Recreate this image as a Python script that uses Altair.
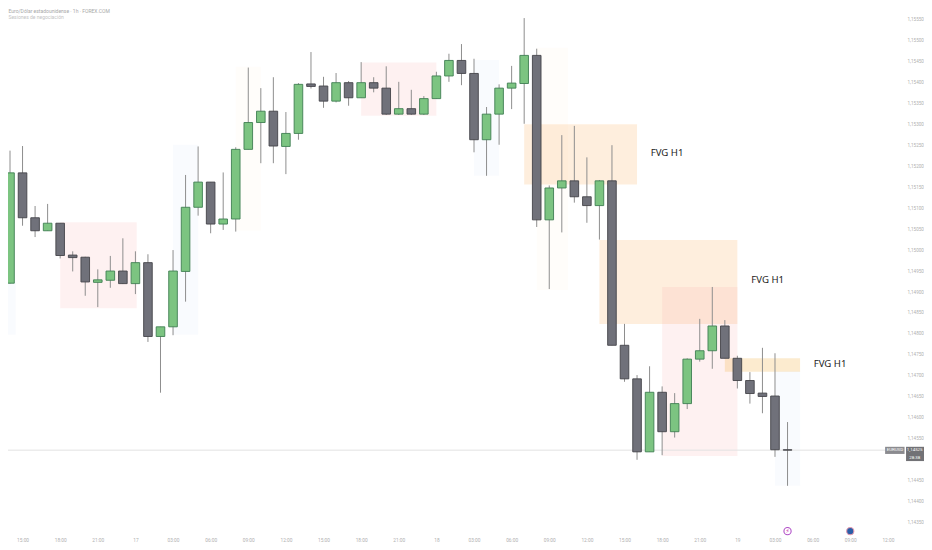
import altair as alt
import pandas as pd

hours = list(range(63))
opens = [1.14921,1.15184,1.15077,1.15046,1.15064,1.14988,1.14983,1.14923,1.14928,1.14950,
         1.14920,1.14970,1.14794,1.14817,1.14949,1.15102,1.15162,1.15062,1.15074,1.15240,
         1.15304,1.15331,1.15247,1.15278,1.15396,1.15391,1.15355,1.15399,1.15363,1.15399,
         1.15386,1.15324,1.15337,1.15324,1.15361,1.15415,1.15452,1.15421,1.15263,1.15324,
         1.15386,1.15397,1.15464,1.15072,1.15148,1.15165,1.15127,1.15106,1.15165,1.14773,
         1.14693,1.14519,1.14661,1.14567,1.14634,1.14740,1.14760,1.14819,1.14742,1.14689,
         1.14659,1.14652,1.14524]
highs = [1.15237,1.15248,1.15105,1.15110,1.15064,1.14997,1.14984,1.14954,1.14986,1.15028,
         1.14997,1.14990,1.14817,1.15000,1.15179,1.15247,1.15162,1.15185,1.15245,1.15435,
         1.15386,1.15412,1.15329,1.15398,1.15472,1.15413,1.15422,1.15403,1.15448,1.15412,
         1.15438,1.15401,1.15382,1.15367,1.15425,1.15468,1.15491,1.15456,1.15341,1.15395,
         1.15439,1.15553,1.15480,1.15154,1.15274,1.15296,1.15221,1.15167,1.15250,1.14824,
         1.14702,1.14723,1.14675,1.14659,1.14742,1.14836,1.14912,1.14833,1.14748,1.14709,
         1.14767,1.14754,1.14590]
lows = [1.14920,1.15058,1.15031,1.15046,1.14980,1.14949,1.14891,1.14864,1.14910,1.14919,
        1.14895,1.14781,1.14660,1.14797,1.14877,1.15082,1.15040,1.15048,1.15044,1.15240,
        1.15207,1.15207,1.15181,1.15263,1.15385,1.15339,1.15352,1.15344,1.15363,1.15376,
        1.15322,1.15322,1.15322,1.15322,1.15361,1.15401,1.15393,1.15233,1.15177,1.15251,
        1.15336,1.15301,1.15055,1.14907,1.15042,1.15113,1.15065,1.15025,1.14773,1.14686,
        1.14500,1.14519,1.14511,1.14553,1.14621,1.14734,1.14717,1.14742,1.14670,1.14634,
        1.14611,1.14507,1.14438]
closes = [1.15184,1.15077,1.15046,1.15064,1.14987,1.14982,1.14924,1.14929,1.14950,1.14920,
          1.14970,1.14794,1.14817,1.14950,1.15102,1.15162,1.15062,1.15074,1.15240,1.15304,
          1.15331,1.15248,1.15278,1.15395,1.15390,1.15355,1.15399,1.15363,1.15399,1.15386,
          1.15324,1.15337,1.15324,1.15361,1.15415,1.15452,1.15421,1.15263,1.15324,1.15386,
          1.15398,1.15464,1.15072,1.15148,1.15165,1.15127,1.15106,1.15165,1.14773,1.14693,
          1.14519,1.14661,1.14567,1.14634,1.14740,1.14760,1.14819,1.14742,1.14689,1.14658,
          1.14651,1.14524,1.14523]

zone_kind = ["blue","red","blue","yellow","red","blue","yellow","orange","orange","red","amber","blue"]
zone_start = [-1,4,13,18,28,37,42,41,47,52,57,61]
zone_end = [0.45,10.1,15,20,34,39,44.5,50,58,58,63,63]
zone_top = [1.14922,1.15066,1.15251,1.15437,1.15447,1.15453,1.15482,1.15300,1.15024,1.14912,1.14742,1.14711]
zone_bottom = [1.14798,1.14861,1.14798,1.15046,1.15320,1.15177,1.14905,1.15156,1.14824,1.14509,1.14710,1.14438]

note_text = ["FVG H1","FVG H1","FVG H1"]
note_hour = [52.39,60.42,65.39]
note_price = [1.15231,1.14929,1.14728]

price_ticks = [1.15550,1.15500,1.15450,1.15400,1.15350,1.15300,1.15250,1.15200,1.15150,1.15100,1.15050,
               1.15000,1.14950,1.14900,1.14850,1.14800,1.14750,1.14700,1.14650,1.14600,1.14550,
               1.14450,1.14400,1.14350]
time_ticks = [1,4,7,10,13,16,19,22,25,28,31,34,37,40,43,46,49,52,55,58,61,64,67,70]
time_labels = ["15:00","18:00","21:00","17","03:00","06:00","09:00","12:00","15:00","18:00","21:00","18",
               "03:00","06:00","09:00","12:00","15:00","18:00","21:00","19","03:00","06:00","09:00","12:00"]
current_price = 1.14523

x_scale = alt.Scale(domain=[-0.1595, 70.33], nice=False, zero=False, padding=0)
y_scale = alt.Scale(domain=[1.14316, 1.15577], nice=False, zero=False, padding=0)

label_lookup = "{" + ",".join(f"'{t}':'{l}'" for t, l in zip(time_ticks, time_labels)) + "}"
x_axis = alt.Axis(values=time_ticks, labelExpr=f"{label_lookup}[datum.value]", title=None, domain=False, ticks=False,
                  grid=False, labelFont="Roboto", labelFontSize=4.8, labelColor="#b0b0b0", labelPadding=0,
                  labelOverlap=False, labelFlush=False)
y_axis = alt.Axis(orient="right", values=price_ticks, labelExpr="replace(format(datum.value,'.5f'),'.',',')",
                  title=None, domain=False, ticks=False, grid=False, labelFont="Roboto", labelFontSize=4.6,
                  labelColor="#b0b0b0", labelPadding=15, labelOverlap=False, labelFlush=False, labelAlign="left")

X = alt.X("x:Q", scale=x_scale, axis=x_axis)
Y = alt.Y("y:Q", scale=y_scale, axis=y_axis)

candles = pd.DataFrame({"x": hours, "o": opens, "h": highs, "l": lows, "c": closes})
candles["dir"] = ["up" if c >= o else "down" for o, c in zip(opens, closes)]
candles["top"] = candles[["o", "c"]].max(axis=1)
candles["bot"] = candles[["o", "c"]].min(axis=1)
zones = pd.DataFrame({"x": zone_start, "x2": zone_end, "y": zone_top, "y2": zone_bottom, "kind": zone_kind})
notes = pd.DataFrame({"x": note_hour, "y": note_price, "t": note_text})

zone_layer = alt.Chart(zones).mark_rect().encode(
    x=X, x2="x2:Q", y=Y, y2="y2:Q",
    color=alt.Color("kind:N", legend=None, scale=alt.Scale(
        domain=["red", "blue", "yellow", "orange", "amber"],
        range=["rgba(248,160,160,0.15)", "rgba(170,200,245,0.07)", "rgba(250,225,150,0.05)",
               "rgba(252,185,112,0.24)", "rgba(245,195,110,0.33)"])),
)
price_line = alt.Chart(pd.DataFrame({"x": [-0.1595], "x2": [69.78], "y": [current_price]})).mark_rule(
    color="#e2e2e2", strokeWidth=1).encode(x=X, x2="x2:Q", y=Y)
wicks = alt.Chart(candles).mark_rule(color="#8e8e8e", strokeWidth=1).encode(
    x=alt.X("x:Q", scale=x_scale, axis=x_axis),
    y=alt.Y("l:Q", scale=y_scale, axis=y_axis), y2="h:Q")
bodies = alt.Chart(candles).mark_bar(size=8.6, strokeWidth=0.9).encode(
    x=alt.X("x:Q", scale=x_scale, axis=x_axis),
    y=alt.Y("top:Q", scale=y_scale, axis=y_axis), y2="bot:Q",
    color=alt.Color("dir:N", legend=None, scale=alt.Scale(domain=["up", "down"], range=["#7cc481", "#70717a"])),
    stroke=alt.Stroke("dir:N", legend=None, scale=alt.Scale(domain=["up", "down"], range=["#3f7f52", "#44444a"])),
)
note_layer = alt.Chart(notes).mark_text(font="Noto Sans", fontSize=9.6, color="#222222", align="center",
                                        baseline="middle").encode(x=X, y=Y, text="t:N")

tag_boxes = pd.DataFrame({"x": [69.78, 71.45], "x2": [71.33, 73.36], "y": [1.14531, 1.14531],
                          "y2": [1.14514, 1.14497], "kind": ["sym", "val"]})
tag_box_layer = alt.Chart(tag_boxes).mark_rect().encode(
    x=X, x2="x2:Q", y=Y, y2="y2:Q",
    color=alt.Color("kind:N", legend=None, scale=alt.Scale(domain=["sym", "val"], range=["#8b8b8f", "#727276"])))
tag_texts = pd.DataFrame({"x": [70.56, 72.14, 72.14], "y": [1.145225, 1.14524, 1.14505],
                          "t": ["EURUSD", "1,14525", "28:38"]})
tag_text_layer = alt.Chart(tag_texts).mark_text(font="Roboto", fontSize=4.4, color="#ffffff", align="center",
                                                baseline="middle").encode(x=X, y=Y, text="t:N")

icons = pd.DataFrame({"x": [62, 67], "y": [1.14330, 1.14330], "kind": ["a", "b"]})
icon_layer = alt.Chart(icons).mark_point(filled=True, size=52, strokeWidth=1.1, opacity=1).encode(
    x=X, y=Y,
    fill=alt.Fill("kind:N", legend=None, scale=alt.Scale(domain=["a", "b"], range=["#ffffff", "#2a5ea8"])),
    stroke=alt.Stroke("kind:N", legend=None, scale=alt.Scale(domain=["a", "b"], range=["#b04fc8", "#e59ab0"])),
)
bolt_layer = alt.Chart(pd.DataFrame({"x": [62], "y": [1.14330], "t": ["\u26a1"]})).mark_text(
    font="DejaVu Sans", fontSize=6, color="#d040b0", align="center", baseline="middle").encode(x=X, y=Y, text="t:N")

head1 = alt.Chart(pd.DataFrame({"x": [0]})).mark_text(
    font="Roboto", fontSize=5, color="#a8a8a8", align="left", baseline="middle").encode(
    x=alt.value(0.5), y=alt.value(2.6), text=alt.value("Euro/D\u00f3lar estadounidense \u00b7 1h \u00b7 FOREX.COM"))
head2 = alt.Chart(pd.DataFrame({"x": [0]})).mark_text(
    font="Roboto", fontSize=5, color="#c4c4c4", align="left", baseline="middle").encode(
    x=alt.value(0.5), y=alt.value(8.6), text=alt.value("Sesiones de negociaci\u00f3n"))

chart = alt.layer(zone_layer, price_line, wicks, bodies, note_layer, tag_box_layer, tag_text_layer,
                  icon_layer, bolt_layer, head1, head2).resolve_scale(
    color="independent", stroke="independent", fill="independent"
).properties(
    width=884, height=529, padding={"left": 0, "top": 0, "right": 32, "bottom": 5}, autosize="none",
    background="#ffffff"
).configure_view(strokeWidth=0)

chart.save("out.html", embed_options={"renderer": "svg", "actions": False})
